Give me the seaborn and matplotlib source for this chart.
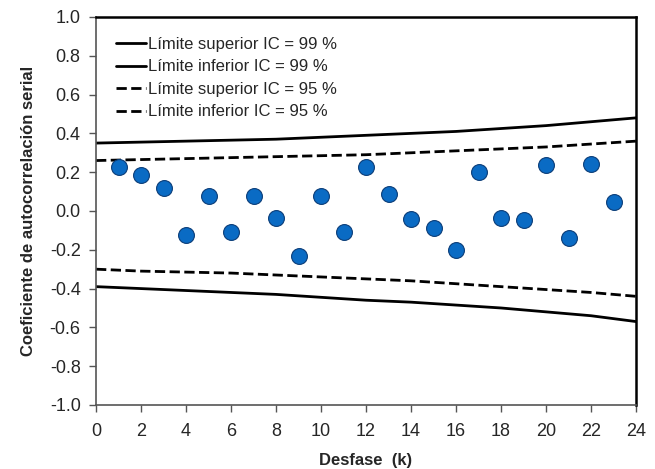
import numpy as np
import pandas as pd
import matplotlib
matplotlib.use('Agg')
import matplotlib.pyplot as plt
import seaborn as sns

# --- data ---
lags = list(range(1, 24))
acf = [0.225, 0.185, 0.12, -0.125, 0.077, -0.11, 0.077, -0.035, -0.23, 0.077,
       -0.11, 0.225, 0.088, -0.04, -0.088, -0.2, 0.2, -0.035, -0.047, 0.235,
       -0.14, 0.24, 0.047]

k_bound = list(range(0, 25, 2))
upper_99 = [0.35, 0.355, 0.36, 0.365, 0.37, 0.38, 0.39, 0.40, 0.41, 0.425, 0.44, 0.46, 0.48]
lower_99 = [-0.39, -0.40, -0.41, -0.42, -0.43, -0.445, -0.46, -0.47, -0.485, -0.50, -0.52, -0.54, -0.57]
upper_95 = [0.26, 0.265, 0.27, 0.275, 0.28, 0.285, 0.29, 0.30, 0.31, 0.32, 0.33, 0.345, 0.36]
lower_95 = [-0.30, -0.31, -0.315, -0.32, -0.33, -0.34, -0.35, -0.36, -0.375, -0.39, -0.405, -0.42, -0.44]

labels = ['Límite superior IC = 99 %', 'Límite inferior IC = 99 %',
          'Límite superior IC = 95 %', 'Límite inferior IC = 95 %']
y_ticks = [-1.0, -0.8, -0.6, -0.4, -0.2, 0.0, 0.2, 0.4, 0.6, 0.8, 1.0]
y_tick_labels = ['-1.0', '-0.8', '-0.6', '-0.4', '-0.2', '0.0',
                 '0.2', '0.4', '0.6', '0.8', '1.0']

sns.set_style('white')
plt.rcParams['font.family'] = ['Liberation Sans', 'DejaVu Sans']

fig = plt.figure(figsize=(6.55, 4.69), dpi=100)
ax = fig.add_axes([0.1466, 0.1365, 0.8245, 0.8273])

bounds = pd.DataFrame({'k': k_bound, 'u99': upper_99, 'l99': lower_99,
                       'u95': upper_95, 'l95': lower_95})
for col, lab, ls in zip(['u99', 'l99', 'u95', 'l95'], labels,
                        ['-', '-', '--', '--']):
    sns.lineplot(data=bounds, x='k', y=col, ax=ax, color='black', lw=2,
                 linestyle=ls, label=lab)

pts = pd.DataFrame({'k': lags, 'r': acf})
sns.scatterplot(data=pts, x='k', y='r', ax=ax, s=130, color='#0a6bc4',
                edgecolor='#0b3d78', linewidth=0.8, zorder=5, legend=False)

ax.set_xlim(0, 24)
ax.set_ylim(-1, 1)
ax.set_xticks(range(0, 25, 2))
ax.set_yticks(y_ticks)
ax.set_yticklabels(y_tick_labels)
ax.tick_params(axis='both', labelsize=13, direction='out', length=5,
               width=1, color='#555555', left=True, bottom=True)
ax.tick_params(axis='x', pad=8)
ax.tick_params(axis='y', pad=6)

for s in ax.spines.values():
    s.set_color('black')
    s.set_linewidth(1.8)
ax.spines['left'].set_linewidth(1.2)
ax.spines['left'].set_color('#555555')
ax.spines['bottom'].set_linewidth(1.2)
ax.spines['bottom'].set_color('#555555')

ax.set_xlabel('Desfase  (k)', fontsize=12, fontweight='bold', labelpad=9)
ax.set_ylabel('Coeficiente de autocorrelación serial', fontsize=12,
              fontweight='bold', labelpad=10)

ax.legend(loc='upper left', frameon=False, fontsize=12, handlelength=1.8,
          handletextpad=0.1, labelspacing=0.45, borderaxespad=0.8)

fig.savefig('out.png', dpi=100)
